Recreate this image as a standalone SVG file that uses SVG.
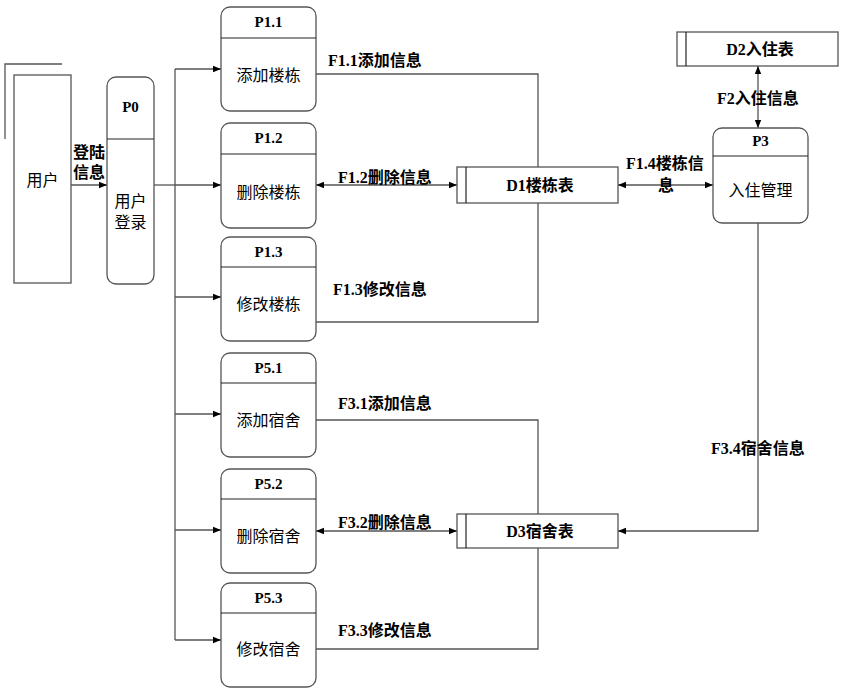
<svg xmlns="http://www.w3.org/2000/svg" width="847" height="696" viewBox="0 0 847 696">
<style>
.box{fill:#fff;stroke:#555;stroke-width:1.3}
.div{stroke:#222;stroke-width:1.2}
.ln{fill:none;stroke:#555;stroke-width:1.3}
.t{font-family:"Liberation Serif","Noto Sans CJK SC",serif;font-size:16px;fill:#000;text-anchor:middle}
.b{font-weight:bold;font-size:15px}
.lb{font-family:"Liberation Serif","Noto Sans CJK SC",serif;font-size:16px;font-weight:bold;fill:#000}
</style>
<defs>
<marker id="ah" viewBox="0 0 10 10" refX="10" refY="5" markerWidth="8" markerHeight="8" markerUnits="userSpaceOnUse" orient="auto-start-reverse">
<path d="M0,1 L10,5 L0,9 z" fill="#000"/>
</marker>
</defs>
<rect width="847" height="696" fill="#fff"/>
<g id="connectors">
<path class="ln" d="M5,139 V64 H62"/>
<line class="ln" x1="71" y1="185" x2="107" y2="185" marker-end="url(#ah)"/>
<path class="ln" d="M154,185 H175"/>
<path class="ln" d="M175,69 V640"/>
<line class="ln" x1="175" y1="69" x2="221" y2="69" marker-end="url(#ah)"/>
<line class="ln" x1="175" y1="185" x2="221" y2="185" marker-end="url(#ah)"/>
<line class="ln" x1="175" y1="297" x2="221" y2="297" marker-end="url(#ah)"/>
<line class="ln" x1="175" y1="414" x2="221" y2="414" marker-end="url(#ah)"/>
<line class="ln" x1="175" y1="530" x2="221" y2="530" marker-end="url(#ah)"/>
<line class="ln" x1="175" y1="640" x2="221" y2="640" marker-end="url(#ah)"/>
<path class="ln" d="M316,74 H538 V167"/>
<path class="ln" d="M538,203 V322 H316"/>
<line class="ln" x1="316" y1="185" x2="457" y2="185" marker-start="url(#ah)" marker-end="url(#ah)"/>
<line class="ln" x1="618" y1="185" x2="713" y2="185" marker-start="url(#ah)" marker-end="url(#ah)"/>
<line class="ln" x1="758" y1="66" x2="758" y2="128" marker-start="url(#ah)" marker-end="url(#ah)"/>
<path class="ln" d="M758,223 V531 H618" marker-end="url(#ah)"/>
<path class="ln" d="M316,420 H538 V514"/>
<path class="ln" d="M538,548 V649 H316"/>
<line class="ln" x1="316" y1="531" x2="457" y2="531" marker-start="url(#ah)" marker-end="url(#ah)"/>
<text class="lb" x="73" y="158">登陆</text>
<text class="lb" x="73" y="178">信息</text>
<text class="lb" x="328" y="66">F1.1添加信息</text>
<text class="lb" x="338" y="183">F1.2删除信息</text>
<text class="lb" x="333" y="295">F1.3修改信息</text>
<text class="lb" x="626" y="169">F1.4楼栋信</text>
<text class="lb" x="658" y="191">息</text>
<text class="lb" x="717" y="104">F2入住信息</text>
<text class="lb" x="711" y="454">F3.4宿舍信息</text>
<text class="lb" x="338" y="409">F3.1添加信息</text>
<text class="lb" x="338" y="528">F3.2删除信息</text>
<text class="lb" x="338" y="636">F3.3修改信息</text>
</g>
<g id="user">
<rect class="box" x="14" y="75" width="57" height="208"/>
<text class="t" x="42.5" y="186">用户</text>
</g>
<g id="P0">
<rect class="box" x="107" y="77" width="47" height="207" rx="9"/>
<line class="div" x1="107" y1="139" x2="154" y2="139"/>
<text class="t b" x="130.5" y="112">P0</text>
<text class="t" x="130.5" y="207">用户</text>
<text class="t" x="130.5" y="228">登录</text>
</g>
<g id="P1.1">
<rect class="box" x="221" y="7" width="95" height="104" rx="9"/>
<line class="div" x1="221" y1="38" x2="316" y2="38"/>
<text class="t b" x="268.5" y="27">P1.1</text>
<text class="t" x="268.5" y="81">添加楼栋</text>
</g>
<g id="P1.2">
<rect class="box" x="221" y="123" width="95" height="105" rx="9"/>
<line class="div" x1="221" y1="154" x2="316" y2="154"/>
<text class="t b" x="268.5" y="143">P1.2</text>
<text class="t" x="268.5" y="198">删除楼栋</text>
</g>
<g id="P1.3">
<rect class="box" x="221" y="237" width="95" height="104" rx="9"/>
<line class="div" x1="221" y1="267" x2="316" y2="267"/>
<text class="t b" x="268.5" y="257">P1.3</text>
<text class="t" x="268.5" y="310">修改楼栋</text>
</g>
<g id="P5.1">
<rect class="box" x="221" y="353" width="95" height="104" rx="9"/>
<line class="div" x1="221" y1="383" x2="316" y2="383"/>
<text class="t b" x="268.5" y="373">P5.1</text>
<text class="t" x="268.5" y="426">添加宿舍</text>
</g>
<g id="P5.2">
<rect class="box" x="221" y="469" width="95" height="104" rx="9"/>
<line class="div" x1="221" y1="499" x2="316" y2="499"/>
<text class="t b" x="268.5" y="489">P5.2</text>
<text class="t" x="268.5" y="542">删除宿舍</text>
</g>
<g id="P5.3">
<rect class="box" x="221" y="583" width="95" height="104" rx="9"/>
<line class="div" x1="221" y1="613" x2="316" y2="613"/>
<text class="t b" x="268.5" y="603">P5.3</text>
<text class="t" x="268.5" y="655">修改宿舍</text>
</g>
<g id="D1">
<rect class="box" x="457" y="167" width="161" height="36"/>
<line class="div" x1="466" y1="167" x2="466" y2="203"/>
<text class="t" style="font-weight:bold" x="540" y="191">D1楼栋表</text>
</g>
<g id="D2">
<rect class="box" x="677" y="32" width="161" height="34"/>
<line class="div" x1="686" y1="32" x2="686" y2="66"/>
<text class="t" style="font-weight:bold" x="760" y="55">D2入住表</text>
</g>
<g id="D3">
<rect class="box" x="457" y="514" width="161" height="34"/>
<line class="div" x1="466" y1="514" x2="466" y2="548"/>
<text class="t" style="font-weight:bold" x="540" y="537">D3宿舍表</text>
</g>
<g id="P3">
<rect class="box" x="713" y="128" width="95" height="95" rx="9"/>
<line class="div" x1="713" y1="156" x2="808" y2="156"/>
<text class="t b" x="760.5" y="146">P3</text>
<text class="t" x="760.5" y="196">入住管理</text>
</g>
</svg>
